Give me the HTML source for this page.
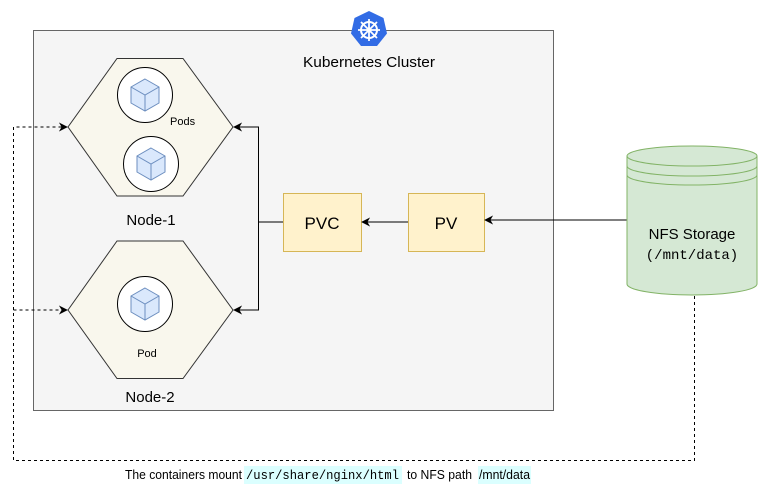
<!DOCTYPE html>
<html><head><meta charset="utf-8"><style>
html,body{margin:0;padding:0;background:#fff;}
svg{display:block;font-family:"Liberation Sans",sans-serif;}
</style></head><body>
<svg width="780" height="500" viewBox="0 0 780 500" xmlns="http://www.w3.org/2000/svg">
<defs>
<marker id="ar" viewBox="0 0 10 10" refX="9" refY="5" markerWidth="9" markerHeight="9" markerUnits="userSpaceOnUse" orient="auto">
<path d="M0,0 L10,5 L0,10 L3,5 Z" fill="#000"/></marker>
<g id="cube">
<path d="M0,-16 L14,-8 L14,8 L0,16 L-14,8 L-14,-8 Z" fill="#dae8fc" stroke="#6c8ebf" stroke-width="1"/>
<path d="M-14,-8 L0,0 L14,-8 M0,0 L0,16" fill="none" stroke="#6c8ebf" stroke-width="1"/>
</g>
</defs>
<rect x="33.5" y="30.5" width="520" height="380" fill="#f5f5f5" stroke="#666"/>
<!-- k8s logo -->
<polygon points="369,11 383.5,18 387,33.5 377,46 361,46 351,33.5 354.5,18" fill="#326ce5"/>
<circle cx="369" cy="30" r="8" fill="none" stroke="#fff" stroke-width="2"/>
<g stroke="#fff" stroke-width="1.8">
<line x1="369" y1="19" x2="369" y2="41"/><line x1="358" y1="30" x2="380" y2="30"/>
<line x1="361" y1="22" x2="377" y2="38"/><line x1="377" y1="22" x2="361" y2="38"/></g>
<circle cx="369" cy="30" r="2.5" fill="#fff"/>
<text x="369" y="67" font-size="15" text-anchor="middle" textLength="132" lengthAdjust="spacingAndGlyphs">Kubernetes Cluster</text>
<!-- hexes -->
<polygon points="117,58.5 183,58.5 233,127 183,196 117,196 68,127" fill="#f9f7ed" stroke="#333"/>
<polygon points="117,241 183,241 233,310 183,378.5 117,378.5 68,310" fill="#f9f7ed" stroke="#333"/>
<circle cx="145" cy="95" r="27.5" fill="#fff" stroke="#000"/>
<use href="#cube" x="145" y="95"/>
<circle cx="151" cy="164" r="27.5" fill="#fff" stroke="#000"/>
<use href="#cube" x="151" y="164"/>
<circle cx="145" cy="304" r="27.5" fill="#fff" stroke="#000"/>
<use href="#cube" x="145" y="304"/>
<text x="170" y="125" font-size="11">Pods</text>
<text x="147" y="357" font-size="11" text-anchor="middle">Pod</text>
<text x="151" y="225" font-size="15" text-anchor="middle">Node-1</text>
<text x="150" y="402" font-size="15" text-anchor="middle">Node-2</text>
<!-- connectors -->
<path d="M283,222 L258.5,222 L258.5,127 L234,127" fill="none" stroke="#000" marker-end="url(#ar)"/>
<path d="M258.5,222 L258.5,310 L234,310" fill="none" stroke="#000" marker-end="url(#ar)"/>
<rect x="283.5" y="193.5" width="78" height="58" fill="#fff2cc" stroke="#d6b656"/>
<text x="322" y="229" font-size="17" text-anchor="middle">PVC</text>
<rect x="408.5" y="193.5" width="76" height="58" fill="#fff2cc" stroke="#d6b656"/>
<text x="446" y="229" font-size="17" text-anchor="middle">PV</text>
<line x1="408" y1="222" x2="362" y2="222" stroke="#000" marker-end="url(#ar)"/>
<line x1="627" y1="220" x2="485" y2="220" stroke="#000" marker-end="url(#ar)"/>
<!-- cylinder -->
<path d="M627,156 A65,10 0 0 1 757,156 L757,284 A65,11 0 0 1 627,284 Z" fill="#d5e8d4" stroke="#82b366"/>
<path d="M627,156 A65,10 0 0 0 757,156 M627,166 A65,10 0 0 0 757,166 M627,175 A65,10 0 0 0 757,175" fill="none" stroke="#82b366"/>
<text x="692" y="239" font-size="15" text-anchor="middle">NFS Storage</text>
<text x="692" y="259" font-size="14" font-family="Liberation Mono, monospace" text-anchor="middle">(/mnt/data)</text>
<!-- dashed -->
<path d="M694.5,296 L694.5,460.5 L13.5,460.5 L13.5,127 L67,127" fill="none" stroke="#000" stroke-dasharray="3,3" marker-end="url(#ar)"/>
<path d="M13.5,310 L67,310" fill="none" stroke="#000" stroke-dasharray="3,3" marker-end="url(#ar)"/>
<!-- caption -->
<rect x="244" y="466" width="158" height="18" fill="#ccffff" opacity="0.7"/>
<rect x="478" y="466" width="53" height="18" fill="#ccffff" opacity="0.7"/>
<text x="125" y="479" font-size="13" textLength="117" lengthAdjust="spacingAndGlyphs">The containers mount</text>
<text x="246" y="479" font-size="12.5" font-family="Liberation Mono, monospace" textLength="153" lengthAdjust="spacingAndGlyphs">/usr/share/nginx/html</text>
<text x="407" y="479" font-size="13" textLength="65" lengthAdjust="spacingAndGlyphs">to NFS  path</text>
<text x="479" y="479" font-size="13" textLength="51" lengthAdjust="spacingAndGlyphs">/mnt/data</text>
</svg>
</body></html>
